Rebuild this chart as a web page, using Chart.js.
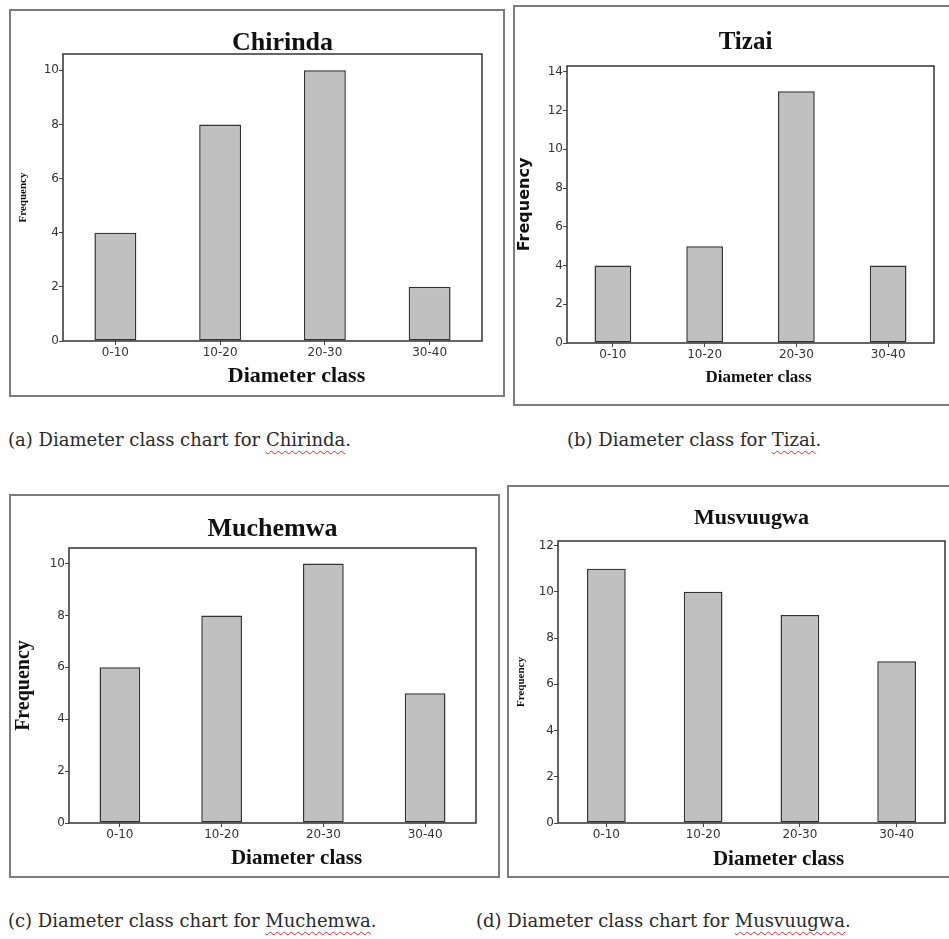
<!DOCTYPE html>
<html>
<head>
<meta charset="utf-8">
<script src="https://cdn.jsdelivr.net/npm/chart.js@4.4.1/dist/chart.umd.min.js"></script>
<style>
  body { margin: 0; background: #fff; width: 949px; height: 939px; position: relative; overflow: hidden; }
  .box { position: absolute; border: 2px solid #7c7c7c; box-sizing: border-box; }
  canvas { position: absolute; }
  .cap { position: absolute; font-family: "DejaVu Serif"; font-size: 18px; line-height: 22px; color: #2a2a2a; white-space: nowrap; }
  .sp { text-decoration: underline wavy #e02a2a; text-decoration-thickness: 1px; text-underline-offset: 4px; }
</style>
</head>
<body>
<div class="box" style="left:9px;top:9px;width:496px;height:388px"></div>
<div class="box" style="left:513px;top:5px;width:440px;height:401px"></div>
<div class="box" style="left:9px;top:494px;width:491px;height:384px"></div>
<div class="box" style="left:507px;top:485px;width:446px;height:393px"></div>

<canvas id="c1" width="496" height="388" style="left:9px;top:9px"></canvas>
<canvas id="c2" width="436" height="401" style="left:513px;top:5px"></canvas>
<canvas id="c3" width="491" height="384" style="left:9px;top:494px"></canvas>
<canvas id="c4" width="442" height="393" style="left:507px;top:485px"></canvas>

<div class="cap" style="left:8px;top:429px">(a) Diameter class chart for <span class="sp">Chirinda</span>.</div>
<div class="cap" style="left:567px;top:429px">(b) Diameter class for <span class="sp">Tizai</span>.</div>
<div class="cap" style="left:8px;top:910px">(c) Diameter class chart for <span class="sp">Muchemwa</span>.</div>
<div class="cap" style="left:476px;top:910px">(d) Diameter class chart for <span class="sp">Musvuugwa</span>.</div>

<script>
// data
var diameterClasses = ['0-10', '10-20', '20-30', '30-40'];
var chirinda = [4, 8, 10, 2];
var tizai = [4, 5, 13, 4];
var muchemwa = [6, 8, 10, 5];
var musvuugwa = [11, 10, 9, 7];
var yMax = [10.6, 14.3, 10.6, 12.2];
var yStep = 2;

// box around the plot area + x caption (shifted like in the original)
var framePlugin = {
  id: 'frame',
  afterLayout: function(chart, args, opts) {
    var t = chart.titleBlock;
    if (t && opts.titleDx) { t.left += opts.titleDx; t.right += opts.titleDx; }
  },
  afterDatasetsDraw: function(chart, args, opts) {
    var a = chart.chartArea, ctx = chart.ctx;
    ctx.save();
    ctx.strokeStyle = '#333';
    ctx.lineWidth = 1.5;
    ctx.strokeRect(a.left, a.top, a.right - a.left, a.bottom - a.top);
    ctx.restore();
  },
  afterDraw: function(chart, args, opts) {
    var a = chart.chartArea, ctx = chart.ctx;
    ctx.save();
    ctx.font = 'bold ' + opts.xFont + 'px "Liberation Serif"';
    ctx.fillStyle = '#111';
    ctx.textAlign = 'center';
    ctx.textBaseline = 'middle';
    ctx.fillText(opts.xText, (a.left + a.right) / 2 + opts.xDx, a.bottom + opts.xDy);
    ctx.restore();
  }
};

function makeChart(id, name, values, max, lay) {
  return new Chart(document.getElementById(id), {
    type: 'bar',
    data: {
      labels: diameterClasses,
      datasets: [{
        label: 'Frequency',
        data: values,
        backgroundColor: '#c0c0c0',
        borderColor: '#333',
        borderWidth: 1.5,
        borderSkipped: false,
        barPercentage: 0.4,
        categoryPercentage: 1
      }]
    },
    options: {
      responsive: false,
      animation: false,
      layout: { padding: { left: 0, right: lay.padRight, top: 0, bottom: 0 } },
      plugins: {
        legend: { display: false },
        tooltip: { enabled: false },
        title: {
          display: true,
          text: name,
          fullSize: false,
          color: '#111',
          font: { family: 'Liberation Serif', size: lay.titleSize, weight: 'bold', lineHeight: 1 },
          padding: { top: lay.titleTop, bottom: lay.titleBottom }
        },
        frame: { titleDx: lay.titleDx, xText: 'Diameter class', xFont: lay.xFont, xDx: lay.xDx, xDy: lay.xDy }
      },
      scales: {
        x: {
          afterFit: function(s) { s.height = lay.xHeight; },
          border: { display: false },
          grid: { offset: false, drawOnChartArea: false, drawTicks: true, tickLength: 4, color: '#444' },
          ticks: { color: '#333', padding: 1, font: { family: 'DejaVu Sans', size: 12 } }
        },
        y: {
          min: 0,
          max: max,
          afterFit: function(s) { s.width = lay.yWidth; },
          border: { display: false },
          grid: { drawOnChartArea: false, drawTicks: true, tickLength: 4, color: '#444' },
          ticks: { stepSize: yStep, includeBounds: false, color: '#333', padding: 0, font: { family: 'DejaVu Sans', size: 12 } },
          title: {
            display: true,
            text: 'Frequency',
            color: '#111',
            font: { family: lay.yFamily, size: lay.ySize, weight: 'bold', lineHeight: 1 },
            padding: { top: lay.yPad, bottom: 0 }
          }
        }
      }
    },
    plugins: [framePlugin]
  });
}

makeChart('c1', 'Chirinda', chirinda, yMax[0], {
  padRight: 23, xHeight: 56, yWidth: 54, titleSize: 26, titleTop: 21, titleBottom: -2, titleDx: 10,
  xFont: 22, xDx: 24, xDy: 35, yFamily: 'Liberation Serif', ySize: 11, yPad: 9
});
makeChart('c2', 'Tizai', tizai, yMax[1], {
  padRight: 15, xHeight: 63, yWidth: 54, titleSize: 25, titleTop: 25, titleBottom: 11, titleDx: -5,
  xFont: 17, xDx: 8, xDy: 35, yFamily: 'DejaVu Sans', ySize: 16, yPad: 4
});
makeChart('c3', 'Muchemwa', muchemwa, yMax[2], {
  padRight: 24, xHeight: 55, yWidth: 60, titleSize: 26, titleTop: 22, titleBottom: 6, titleDx: 0,
  xFont: 21, xDx: 24, xDy: 36, yFamily: 'Liberation Serif', ySize: 20, yPad: 5
});
makeChart('c4', 'Musvuugwa', musvuugwa, yMax[3], {
  padRight: 4, xHeight: 55, yWidth: 51, titleSize: 22, titleTop: 22, titleBottom: 12, titleDx: 0,
  xFont: 21, xDx: 27, xDy: 37, yFamily: 'Liberation Serif', ySize: 11, yPad: 9
});
</script>
</body>
</html>
